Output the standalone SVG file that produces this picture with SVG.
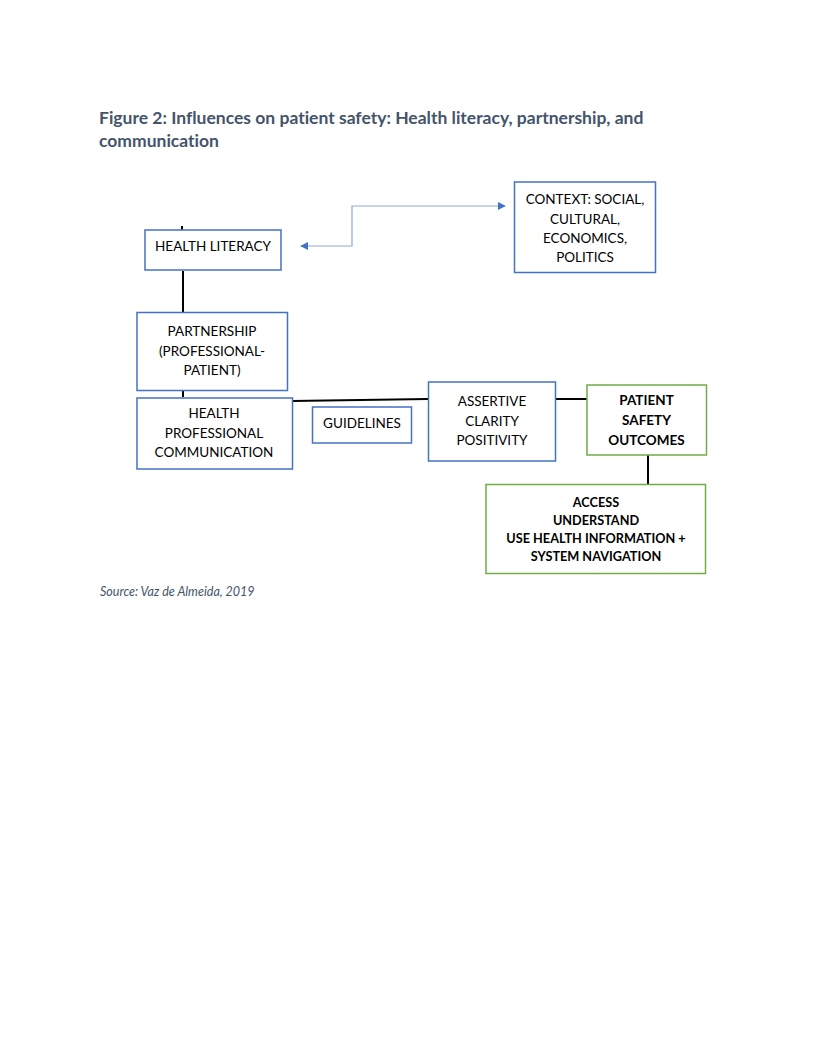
<svg xmlns="http://www.w3.org/2000/svg" width="816" height="1056" viewBox="0 0 816 1056">
<style>
text{font-variant-ligatures:none;font-feature-settings:"liga" 0,"dlig" 0}
.t{font-family:Lato,"Open Sans","Liberation Sans",sans-serif;font-size:13.5px;fill:#000;text-anchor:middle}
.b{font-weight:bold}
.s{font-size:12.7px}
.bx{fill:#fff;stroke:#4472C4;stroke-width:1.5}
.gx{fill:#fff;stroke:#70AD47;stroke-width:1.5}
.ln{stroke:#000;stroke-width:2;fill:none}
.ti{font-family:Lato,"Open Sans","Liberation Sans",sans-serif;font-size:17.5px;font-weight:bold;fill:#44546A}
</style>
<defs>
<marker id="ah" viewBox="0 0 10 10" refX="9" refY="5" markerWidth="8" markerHeight="8" markerUnits="userSpaceOnUse" orient="auto-start-reverse">
<path d="M0,0 L10,5 L0,10 z" fill="#4472C4"/>
</marker>
</defs>
<rect width="816" height="1056" fill="#fff"/>
<g id="title">
<text class="ti" x="99" y="124">Figure 2: Influences on patient safety: Health literacy, partnership, and</text>
<text class="ti" x="99" y="147">communication</text>
</g>
<g id="connectors">
<line class="ln" x1="182" y1="226" x2="182" y2="230"/>
<line class="ln" x1="183" y1="271" x2="183" y2="312"/>
<line class="ln" x1="183" y1="391" x2="183" y2="397"/>
<line class="ln" x1="292" y1="401" x2="428" y2="399"/>
<line class="ln" x1="556" y1="399" x2="587" y2="399"/>
<line class="ln" x1="648" y1="455" x2="648" y2="485"/>
<polyline points="301,246 352,246 352,206 505,206" fill="none" stroke="#8EA9DB" stroke-width="1.2" marker-start="url(#ah)" marker-end="url(#ah)"/>
</g>
<g id="health-literacy">
<rect class="bx" x="145" y="230" width="136" height="40"/>
<text class="t" x="213" y="251">HEALTH LITERACY</text>
</g>
<g id="context">
<rect class="bx" x="514.5" y="182" width="141" height="90.5"/>
<text class="t" x="585" y="204">CONTEXT: SOCIAL,</text>
<text class="t" x="585" y="223.5">CULTURAL,</text>
<text class="t" x="585" y="243">ECONOMICS,</text>
<text class="t" x="585" y="262">POLITICS</text>
</g>
<g id="partnership">
<rect class="bx" x="137" y="312.5" width="150.5" height="78"/>
<text class="t" x="212" y="336">PARTNERSHIP</text>
<text class="t" x="212" y="356">(PROFESSIONAL-</text>
<text class="t" x="212" y="375">PATIENT)</text>
</g>
<g id="hpc">
<rect class="bx" x="137" y="398" width="155.5" height="71"/>
<text class="t" x="214" y="418">HEALTH</text>
<text class="t" x="214" y="438">PROFESSIONAL</text>
<text class="t" x="214" y="457">COMMUNICATION</text>
</g>
<g id="guidelines">
<rect class="bx" x="312.5" y="407" width="99" height="36"/>
<text class="t" x="362" y="428">GUIDELINES</text>
</g>
<g id="assertive">
<rect class="bx" x="428.5" y="382" width="127" height="79"/>
<text class="t" x="492" y="406">ASSERTIVE</text>
<text class="t" x="492" y="426">CLARITY</text>
<text class="t" x="492" y="445">POSITIVITY</text>
</g>
<g id="pso">
<rect class="gx" x="587" y="385" width="119.5" height="70"/>
<text class="t b" x="646.5" y="405">PATIENT</text>
<text class="t b" x="646.5" y="425">SAFETY</text>
<text class="t b" x="646.5" y="445">OUTCOMES</text>
</g>
<g id="access">
<rect class="gx" x="486" y="484.5" width="219.5" height="89"/>
<text class="t b s" x="596" y="507">ACCESS</text>
<text class="t b s" x="596" y="525">UNDERSTAND</text>
<text class="t b s" x="596" y="543">USE HEALTH INFORMATION +</text>
<text class="t b s" x="596" y="561">SYSTEM NAVIGATION</text>
</g>
<g id="source">
<text x="100" y="596" font-family="Lato,'Open Sans','Liberation Sans',sans-serif" font-size="12.5" font-style="italic" fill="#44546A">Source: Vaz de Almeida, 2019</text>
</g>
</svg>
